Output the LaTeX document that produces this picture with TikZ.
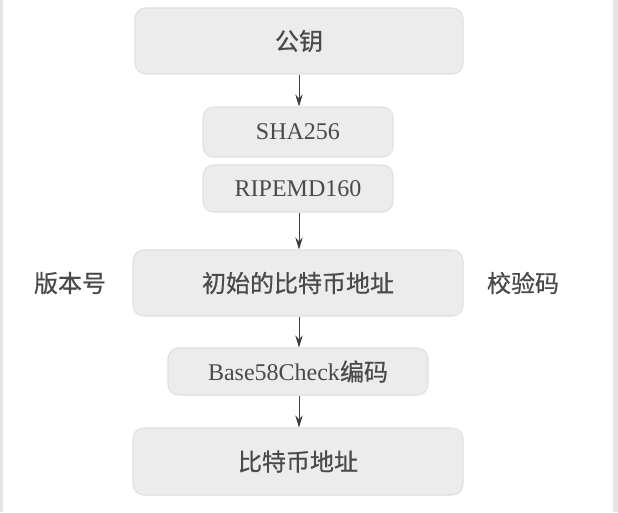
\documentclass[tikz,border=0pt]{standalone}
\usepackage{fontspec}
\setmainfont{Liberation Serif}
\newfontfamily\cjk[FakeBold=0.6]{Noto Sans CJK SC}
\usetikzlibrary{arrows.meta}
\definecolor{txt}{HTML}{4A4A4A}
\definecolor{boxfill}{HTML}{ECECEC}
\definecolor{boxline}{HTML}{E0E0E0}
\definecolor{edge}{HTML}{E4E4E4}
\tikzset{
  procbox/.style={draw=boxline, fill=boxfill, rounded corners=8pt, line width=0.8pt,
    inner sep=0pt, text=txt, font=\fontsize{18}{20}\selectfont},
  plain/.style={inner sep=0pt, text=txt, font=\fontsize{18}{20}\selectfont},
  flow/.style={draw=txt!85!black, line width=0.7pt, -{Stealth[length=9pt,width=5.5pt]}}
}
\begin{document}
\begin{tikzpicture}[x=0.75pt,y=-0.75pt]
\useasboundingbox (0,0) rectangle (618,512);
\fill[white] (0,0) rectangle (618,512);
\fill[edge] (0,0) rectangle (3,512);
\fill[edge] (613,0) rectangle (618,512);

\node[procbox, minimum width=328*0.75pt, minimum height=66*0.75pt] (pk) at (299,41) {\cjk 公钥};
\node[procbox, minimum width=190*0.75pt, minimum height=50*0.75pt] (sha) at (298,132) {SHA256};
\node[procbox, minimum width=190*0.75pt, minimum height=47*0.75pt] (rip) at (298,188.5) {RIPEMD160};
\node[procbox, minimum width=330*0.75pt, minimum height=66*0.75pt] (init) at (298,283) {\cjk 初始的比特币地址};
\node[plain] (ver) at (70,283) {\cjk 版本号};
\node[plain] (chk) at (523,283) {\cjk 校验码};
\node[procbox, minimum width=260*0.75pt, minimum height=47*0.75pt] (b58) at (298,371.5) {Base58Check{\cjk 编码}};
\node[procbox, minimum width=330*0.75pt, minimum height=67*0.75pt] (addr) at (298,461.5) {\cjk 比特币地址};

\draw[flow] (pk.south -| 299,0) -- (sha.north -| 299,0);
\draw[flow] (rip.south -| 299,0) -- (init.north -| 299,0);
\draw[flow] (init.south -| 299,0) -- (b58.north -| 299,0);
\draw[flow] (b58.south -| 299,0) -- (addr.north -| 299,0);
\end{tikzpicture}
\end{document}
